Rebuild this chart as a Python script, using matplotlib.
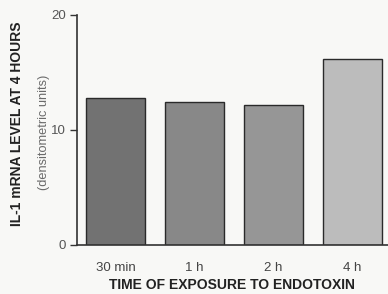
import matplotlib
matplotlib.use('Agg')
import matplotlib.pyplot as plt
import numpy as np

# values
times = ['30 min', '1 h', '2 h', '4 h']
il1_level = [12.8, 12.4, 12.2, 16.2]
bar_colors = ['#727272', '#888888', '#969696', '#bcbcbc']

plt.rcParams['font.family'] = ['Liberation Sans', 'DejaVu Sans']

fig = plt.figure(figsize=(3.88, 2.94), dpi=100)
fig.patch.set_facecolor('#f8f8f6')
ax = fig.add_axes([0.198, 0.167, 0.802, 0.782])
ax.set_facecolor('#f8f8f6')

x = np.arange(len(times))
ax.bar(x, il1_level, width=0.75, color=bar_colors, edgecolor='#2a2a2a', linewidth=1.0)

ax.set_xlim(-0.49, 3.45)
ax.set_ylim(0, 20)
ax.set_yticks([0, 10, 20])
ax.set_xticks(x)
ax.set_xticklabels(times, fontsize=9.5, color='#444444')
ax.tick_params(axis='x', length=0, pad=12)
ax.tick_params(axis='y', length=5, width=1, color='#333333', labelsize=9.5, labelcolor='#555555', pad=3)

for s in ['top', 'right']:
    ax.spines[s].set_visible(False)
for s in ['left', 'bottom']:
    ax.spines[s].set_color('#333333')
    ax.spines[s].set_linewidth(1.2)

ax.set_xlabel('TIME OF EXPOSURE TO ENDOTOXIN', fontsize=10, fontweight='bold', color='#222222', labelpad=3)
fig.text(0.045, 0.58, 'IL-1 mRNA LEVEL AT 4 HOURS', rotation=90, ha='center', va='center',
         fontsize=10, fontweight='bold', color='#222222')
fig.text(0.113, 0.55, '(densitometric units)', rotation=90, ha='center', va='center',
         fontsize=9.2, color='#6a6a6a')

fig.savefig('out.png', dpi=100, facecolor=fig.get_facecolor())
